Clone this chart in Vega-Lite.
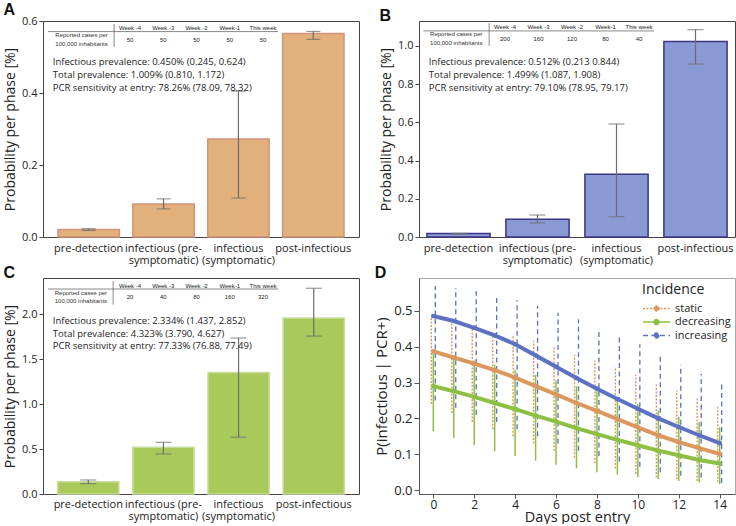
{
"$schema": "https://vega.github.io/schema/vega-lite/v6.json",
"padding": {"left": 3, "top": 1, "right": 0, "bottom": 0},
"bounds": "flush",
"columns": 2,
"spacing": {"row": 41, "column": 60},
"resolve": {"scale": {"color": "independent", "strokeDash": "independent"}, "legend": {"color": "independent", "strokeDash": "independent"}},
"concat": [
{
"title": {"text": "A"},
"width": 316, "height": 216,
"view": {"stroke": "#444"},
"layer": [
 {"data": {"values": [
   {"phase": "pre-detection", "p": 0.021, "lo": 0.018, "hi": 0.023},
   {"phase": "infectious (pre-symptomatic)", "p": 0.092, "lo": 0.078, "hi": 0.106},
   {"phase": "infectious (symptomatic)", "p": 0.272, "lo": 0.108, "hi": 0.405},
   {"phase": "post-infectious", "p": 0.565, "lo": 0.549, "hi": 0.571}]},
  "encoding": {"x": {"field": "phase", "type": "nominal", "scale": {"domain": ["pre-detection","infectious (pre-symptomatic)","infectious (symptomatic)","post-infectious"], "paddingInner": 0.18, "paddingOuter": 0.2},
     "axis": {"title": null, "ticks": false, "domain": false, "labelAngle": 0, "labelFontSize": 11, "labelPadding": 5, "labelLineHeight": 12, "labelExpr": "datum.value == 'infectious (pre-symptomatic)' ? ['infectious (pre-', 'symptomatic)'] : datum.value == 'infectious (symptomatic)' ? ['infectious', '(symptomatic)'] : datum.label"}}},
  "layer": [
   {"mark": {"type": "bar", "fill": "#E1B07B", "stroke": "#D2937C", "strokeWidth": 1.5},
    "encoding": {"y": {"field": "p", "type": "quantitative", "title": "Probability per phase [%]", "scale": {"domain": [0, 0.6], "nice": false},
      "axis": {"values": [0,0.1,0.2,0.3,0.4,0.5,0.6], "format": ".1f", "domain": false, "tickSize": 4, "tickColor": "#444", "labelFontSize": 11, "titleFontSize": 14, "labelPadding": 2, "titlePadding": 4}}}},
   {"mark": {"type": "rule", "color": "#6d6d6d", "strokeWidth": 1.2},
    "encoding": {"y": {"field": "lo", "type": "quantitative", "title": "Probability per phase [%]"}, "y2": {"field": "hi"}}},
   {"mark": {"type": "tick", "color": "#6d6d6d", "size": 14, "thickness": 1.2},
    "encoding": {"y": {"field": "lo", "type": "quantitative", "title": "Probability per phase [%]"}}},
   {"mark": {"type": "tick", "color": "#6d6d6d", "size": 14, "thickness": 1.2},
    "encoding": {"y": {"field": "hi", "type": "quantitative", "title": "Probability per phase [%]"}}}
  ]},
 {"data": {"values": [{"panel": "A"}]},
  "layer": [
   {"mark": {"type": "text", "align": "left", "baseline": "middle", "fontSize": 9.5, "lineHeight": 13, "color": "#222"},
    "encoding": {"x": {"datum": 0.031, "type": "quantitative", "scale": {"domain": [0, 1]}, "axis": null},
     "y": {"datum": 0.81, "type": "quantitative", "scale": {"domain": [0, 1]}, "axis": null},
     "text": {"value": ["Infectious prevalence: 0.450% (0.245, 0.624)", "Total prevalence: 1.009% (0.810, 1.172)", "PCR sensitivity at entry: 78.26% (78.09, 78.32)"]}}},
   {"mark": {"type": "text", "align": "center", "baseline": "middle", "fontSize": 6, "lineHeight": 8.5, "font": "Liberation Sans", "color": "#333"},
    "encoding": {"x": {"datum": 0.122, "type": "quantitative"}, "y": {"datum": 0.935, "type": "quantitative"},
     "text": {"value": ["Reported cases per", "100,000 inhabitants"]}}},
   {"mark": {"type": "rule", "color": "#555", "strokeWidth": 0.7},
    "encoding": {"x": {"datum": 0.016, "type": "quantitative"}, "x2": {"datum": 0.744}, "y": {"datum": 0.951, "type": "quantitative"}}},
   {"mark": {"type": "rule", "color": "#555", "strokeWidth": 0.7},
    "encoding": {"x": {"datum": 0.225, "type": "quantitative"}, "y": {"datum": 0.986, "type": "quantitative"}, "y2": {"datum": 0.88}}}
  ]},
 {"data": {"values": [
   {"week": "Week -4", "cases": "50"}, {"week": "Week -3", "cases": "50"}, {"week": "Week -2", "cases": "50"}, {"week": "Week-1", "cases": "50"}, {"week": "This week", "cases": "50"}]},
  "encoding": {"x": {"field": "week", "type": "ordinal", "sort": null, "scale": {"type": "point", "range": [87, 220], "padding": 0}, "axis": null}},
  "layer": [
   {"mark": {"type": "text", "fontSize": 6, "font": "Liberation Sans", "color": "#222", "baseline": "middle"},
    "encoding": {"y": {"datum": 0.968, "type": "quantitative", "scale": {"domain": [0, 1]}, "axis": null}, "text": {"field": "week"}}},
   {"mark": {"type": "text", "fontSize": 6, "font": "Liberation Sans", "color": "#222", "baseline": "middle"},
    "encoding": {"y": {"datum": 0.912, "type": "quantitative"}, "text": {"field": "cases"}}}
  ]}
],
"resolve": {"scale": {"x": "independent", "y": "independent"}}
},
{
"title": {"text": "B"},
"width": 316, "height": 216,
"view": {"stroke": "#444"},
"layer": [
 {"data": {"values": [
   {"phase": "pre-detection", "p": 0.018, "lo": 0.016, "hi": 0.019},
   {"phase": "infectious (pre-symptomatic)", "p": 0.093, "lo": 0.074, "hi": 0.115},
   {"phase": "infectious (symptomatic)", "p": 0.328, "lo": 0.106, "hi": 0.591},
   {"phase": "post-infectious", "p": 1.023, "lo": 0.905, "hi": 1.085}]},
  "encoding": {"x": {"field": "phase", "type": "nominal", "scale": {"domain": ["pre-detection","infectious (pre-symptomatic)","infectious (symptomatic)","post-infectious"], "paddingInner": 0.2, "paddingOuter": 0.1},
     "axis": {"title": null, "ticks": false, "domain": false, "labelAngle": 0, "labelFontSize": 11, "labelPadding": 5, "labelLineHeight": 12, "labelExpr": "datum.value == 'infectious (pre-symptomatic)' ? ['infectious (pre-', 'symptomatic)'] : datum.value == 'infectious (symptomatic)' ? ['infectious', '(symptomatic)'] : datum.label"}}},
  "layer": [
   {"mark": {"type": "bar", "fill": "#8A9AD4", "stroke": "#3C3585", "strokeWidth": 1.5},
    "encoding": {"y": {"field": "p", "type": "quantitative", "title": "Probability per phase [%]", "scale": {"domain": [0, 1.13], "nice": false},
      "axis": {"values": [0,0.2,0.4,0.6,0.8,1.0], "format": ".1f", "domain": false, "tickSize": 4, "tickColor": "#444", "labelFontSize": 11, "titleFontSize": 14, "labelPadding": 2, "titlePadding": 4}}}},
   {"mark": {"type": "rule", "color": "#6d6d6d", "strokeWidth": 1.2},
    "encoding": {"y": {"field": "lo", "type": "quantitative", "title": "Probability per phase [%]"}, "y2": {"field": "hi"}}},
   {"mark": {"type": "tick", "color": "#6d6d6d", "size": 16, "thickness": 1.2},
    "encoding": {"y": {"field": "lo", "type": "quantitative", "title": "Probability per phase [%]"}}},
   {"mark": {"type": "tick", "color": "#6d6d6d", "size": 16, "thickness": 1.2},
    "encoding": {"y": {"field": "hi", "type": "quantitative", "title": "Probability per phase [%]"}}}
  ]},
 {"data": {"values": [{"panel": "B"}]},
  "layer": [
   {"mark": {"type": "text", "align": "left", "baseline": "middle", "fontSize": 9.5, "lineHeight": 13, "color": "#222"},
    "encoding": {"x": {"datum": 0.031, "type": "quantitative", "scale": {"domain": [0, 1]}, "axis": null},
     "y": {"datum": 0.81, "type": "quantitative", "scale": {"domain": [0, 1]}, "axis": null},
     "text": {"value": ["Infectious prevalence: 0.512% (0.213 0.844)", "Total prevalence: 1.499% (1.087, 1.908)", "PCR sensitivity at entry: 79.10% (78.95, 79.17)"]}}},
   {"mark": {"type": "text", "align": "center", "baseline": "middle", "fontSize": 6, "lineHeight": 8.5, "font": "Liberation Sans", "color": "#333"},
    "encoding": {"x": {"datum": 0.118, "type": "quantitative"}, "y": {"datum": 0.938, "type": "quantitative"},
     "text": {"value": ["Reported cases per", "100,000 inhabitants"]}}},
   {"mark": {"type": "rule", "color": "#555", "strokeWidth": 0.7},
    "encoding": {"x": {"datum": 0.014, "type": "quantitative"}, "x2": {"datum": 0.744}, "y": {"datum": 0.954, "type": "quantitative"}}},
   {"mark": {"type": "rule", "color": "#555", "strokeWidth": 0.7},
    "encoding": {"x": {"datum": 0.222, "type": "quantitative"}, "y": {"datum": 0.99, "type": "quantitative"}, "y2": {"datum": 0.885}}}
  ]},
 {"data": {"values": [
   {"week": "Week -4", "cases": "200"}, {"week": "Week -3", "cases": "160"}, {"week": "Week -2", "cases": "120"}, {"week": "Week-1", "cases": "80"}, {"week": "This week", "cases": "40"}]},
  "encoding": {"x": {"field": "week", "type": "ordinal", "sort": null, "scale": {"type": "point", "range": [86, 220], "padding": 0}, "axis": null}},
  "layer": [
   {"mark": {"type": "text", "fontSize": 6, "font": "Liberation Sans", "color": "#222", "baseline": "middle"},
    "encoding": {"y": {"datum": 0.973, "type": "quantitative", "scale": {"domain": [0, 1]}, "axis": null}, "text": {"field": "week"}}},
   {"mark": {"type": "text", "fontSize": 6, "font": "Liberation Sans", "color": "#222", "baseline": "middle"},
    "encoding": {"y": {"datum": 0.915, "type": "quantitative"}, "text": {"field": "cases"}}}
  ]}
],
"resolve": {"scale": {"x": "independent", "y": "independent"}}
},
{
"title": {"text": "C"},
"width": 316, "height": 216,
"view": {"stroke": "#444"},
"layer": [
 {"data": {"values": [
   {"phase": "pre-detection", "p": 0.137, "lo": 0.115, "hi": 0.156},
   {"phase": "infectious (pre-symptomatic)", "p": 0.519, "lo": 0.445, "hi": 0.575},
   {"phase": "infectious (symptomatic)", "p": 1.351, "lo": 0.631, "hi": 1.733},
   {"phase": "post-infectious", "p": 1.955, "lo": 1.755, "hi": 2.286}]},
  "encoding": {"x": {"field": "phase", "type": "nominal", "scale": {"domain": ["pre-detection","infectious (pre-symptomatic)","infectious (symptomatic)","post-infectious"], "paddingInner": 0.185, "paddingOuter": 0.195},
     "axis": {"title": null, "ticks": false, "domain": false, "labelAngle": 0, "labelFontSize": 11, "labelPadding": 4, "labelLineHeight": 12, "labelExpr": "datum.value == 'infectious (pre-symptomatic)' ? ['infectious (pre-', 'symptomatic)'] : datum.value == 'infectious (symptomatic)' ? ['infectious', '(symptomatic)'] : datum.label"}}},
  "layer": [
   {"mark": {"type": "bar", "fill": "#A9C95B", "stroke": "#C9DDA0", "strokeWidth": 1.5},
    "encoding": {"y": {"field": "p", "type": "quantitative", "title": "Probability per phase [%]", "scale": {"domain": [0, 2.4], "nice": false},
      "axis": {"values": [0,0.5,1.0,1.5,2.0], "format": ".1f", "domain": false, "tickSize": 4, "tickColor": "#444", "labelFontSize": 11, "titleFontSize": 14, "labelPadding": 2, "titlePadding": 4}}}},
   {"mark": {"type": "rule", "color": "#6d6d6d", "strokeWidth": 1.2},
    "encoding": {"y": {"field": "lo", "type": "quantitative", "title": "Probability per phase [%]"}, "y2": {"field": "hi"}}},
   {"mark": {"type": "tick", "color": "#6d6d6d", "size": 16, "thickness": 1.2},
    "encoding": {"y": {"field": "lo", "type": "quantitative", "title": "Probability per phase [%]"}}},
   {"mark": {"type": "tick", "color": "#6d6d6d", "size": 16, "thickness": 1.2},
    "encoding": {"y": {"field": "hi", "type": "quantitative", "title": "Probability per phase [%]"}}}
  ]},
 {"data": {"values": [{"panel": "C"}]},
  "layer": [
   {"mark": {"type": "text", "align": "left", "baseline": "middle", "fontSize": 9.5, "lineHeight": 12.5, "color": "#222"},
    "encoding": {"x": {"datum": 0.031, "type": "quantitative", "scale": {"domain": [0, 1]}, "axis": null},
     "y": {"datum": 0.80, "type": "quantitative", "scale": {"domain": [0, 1]}, "axis": null},
     "text": {"value": ["Infectious prevalence: 2.334% (1.437, 2.852)", "Total prevalence: 4.323% (3.790, 4.627)", "PCR sensitivity at entry: 77.33% (76.88, 77.49)"]}}},
   {"mark": {"type": "text", "align": "center", "baseline": "middle", "fontSize": 6, "lineHeight": 8.5, "font": "Liberation Sans", "color": "#333"},
    "encoding": {"x": {"datum": 0.12, "type": "quantitative"}, "y": {"datum": 0.932, "type": "quantitative"},
     "text": {"value": ["Reported cases per", "100,000 inhabitants"]}}},
   {"mark": {"type": "rule", "color": "#555", "strokeWidth": 0.7},
    "encoding": {"x": {"datum": 0.016, "type": "quantitative"}, "x2": {"datum": 0.744}, "y": {"datum": 0.949, "type": "quantitative"}}},
   {"mark": {"type": "rule", "color": "#555", "strokeWidth": 0.7},
    "encoding": {"x": {"datum": 0.222, "type": "quantitative"}, "y": {"datum": 0.986, "type": "quantitative"}, "y2": {"datum": 0.877}}}
  ]},
 {"data": {"values": [
   {"week": "Week -4", "cases": "20"}, {"week": "Week -3", "cases": "40"}, {"week": "Week -2", "cases": "80"}, {"week": "Week-1", "cases": "160"}, {"week": "This week", "cases": "320"}]},
  "encoding": {"x": {"field": "week", "type": "ordinal", "sort": null, "scale": {"type": "point", "range": [87, 220], "padding": 0}, "axis": null}},
  "layer": [
   {"mark": {"type": "text", "fontSize": 6, "font": "Liberation Sans", "color": "#222", "baseline": "middle"},
    "encoding": {"y": {"datum": 0.965, "type": "quantitative", "scale": {"domain": [0, 1]}, "axis": null}, "text": {"field": "week"}}},
   {"mark": {"type": "text", "fontSize": 6, "font": "Liberation Sans", "color": "#222", "baseline": "middle"},
    "encoding": {"y": {"datum": 0.912, "type": "quantitative"}, "text": {"field": "cases"}}}
  ]}
],
"resolve": {"scale": {"x": "independent", "y": "independent"}}
},
{
"title": {"text": "D"},
"width": 316, "height": 216,
"view": {"stroke": "#aaa"},
"data": {"values": [
 {"day": 0, "series": "static", "p": 0.387, "lo": 0.24, "hi": 0.485},
 {"day": 1, "series": "static", "p": 0.370, "lo": 0.215, "hi": 0.467},
 {"day": 2, "series": "static", "p": 0.353, "lo": 0.19, "hi": 0.457},
 {"day": 3, "series": "static", "p": 0.335, "lo": 0.17, "hi": 0.443},
 {"day": 4, "series": "static", "p": 0.314, "lo": 0.15, "hi": 0.434},
 {"day": 5, "series": "static", "p": 0.290, "lo": 0.13, "hi": 0.417},
 {"day": 6, "series": "static", "p": 0.267, "lo": 0.11, "hi": 0.400},
 {"day": 7, "series": "static", "p": 0.243, "lo": 0.09, "hi": 0.378},
 {"day": 8, "series": "static", "p": 0.221, "lo": 0.075, "hi": 0.362},
 {"day": 9, "series": "static", "p": 0.198, "lo": 0.06, "hi": 0.344},
 {"day": 10, "series": "static", "p": 0.175, "lo": 0.045, "hi": 0.322},
 {"day": 11, "series": "static", "p": 0.153, "lo": 0.035, "hi": 0.299},
 {"day": 12, "series": "static", "p": 0.134, "lo": 0.03, "hi": 0.278},
 {"day": 13, "series": "static", "p": 0.117, "lo": 0.025, "hi": 0.257},
 {"day": 14, "series": "static", "p": 0.101, "lo": 0.022, "hi": 0.235},
 {"day": 0, "series": "decreasing", "p": 0.290, "lo": 0.164, "hi": 0.385},
 {"day": 1, "series": "decreasing", "p": 0.276, "lo": 0.145, "hi": 0.373},
 {"day": 2, "series": "decreasing", "p": 0.260, "lo": 0.126, "hi": 0.362},
 {"day": 3, "series": "decreasing", "p": 0.243, "lo": 0.109, "hi": 0.350},
 {"day": 4, "series": "decreasing", "p": 0.226, "lo": 0.095, "hi": 0.336},
 {"day": 5, "series": "decreasing", "p": 0.208, "lo": 0.082, "hi": 0.322},
 {"day": 6, "series": "decreasing", "p": 0.191, "lo": 0.071, "hi": 0.306},
 {"day": 7, "series": "decreasing", "p": 0.173, "lo": 0.061, "hi": 0.290},
 {"day": 8, "series": "decreasing", "p": 0.156, "lo": 0.050, "hi": 0.275},
 {"day": 9, "series": "decreasing", "p": 0.140, "lo": 0.043, "hi": 0.258},
 {"day": 10, "series": "decreasing", "p": 0.125, "lo": 0.036, "hi": 0.240},
 {"day": 11, "series": "decreasing", "p": 0.110, "lo": 0.031, "hi": 0.222},
 {"day": 12, "series": "decreasing", "p": 0.097, "lo": 0.025, "hi": 0.205},
 {"day": 13, "series": "decreasing", "p": 0.084, "lo": 0.021, "hi": 0.190},
 {"day": 14, "series": "decreasing", "p": 0.074, "lo": 0.017, "hi": 0.175},
 {"day": 0, "series": "increasing", "p": 0.486, "lo": 0.25, "hi": 0.570},
 {"day": 1, "series": "increasing", "p": 0.472, "lo": 0.23, "hi": 0.564},
 {"day": 2, "series": "increasing", "p": 0.453, "lo": 0.21, "hi": 0.556},
 {"day": 3, "series": "increasing", "p": 0.432, "lo": 0.19, "hi": 0.544},
 {"day": 4, "series": "increasing", "p": 0.407, "lo": 0.17, "hi": 0.530},
 {"day": 5, "series": "increasing", "p": 0.376, "lo": 0.15, "hi": 0.514},
 {"day": 6, "series": "increasing", "p": 0.344, "lo": 0.13, "hi": 0.495},
 {"day": 7, "series": "increasing", "p": 0.313, "lo": 0.11, "hi": 0.477},
 {"day": 8, "series": "increasing", "p": 0.283, "lo": 0.095, "hi": 0.452},
 {"day": 9, "series": "increasing", "p": 0.254, "lo": 0.08, "hi": 0.430},
 {"day": 10, "series": "increasing", "p": 0.227, "lo": 0.065, "hi": 0.407},
 {"day": 11, "series": "increasing", "p": 0.200, "lo": 0.05, "hi": 0.379},
 {"day": 12, "series": "increasing", "p": 0.176, "lo": 0.04, "hi": 0.350},
 {"day": 13, "series": "increasing", "p": 0.153, "lo": 0.035, "hi": 0.324},
 {"day": 14, "series": "increasing", "p": 0.131, "lo": 0.02, "hi": 0.297}
]},
"encoding": {
 "x": {"field": "day", "type": "quantitative", "scale": {"domain": [-0.7, 14.75], "nice": false, "zero": false},
   "axis": {"title": "Days post entry", "values": [0,2,4,6,8,10,12,14], "tickSize": 4, "tickColor": "#555", "domainColor": "#555", "labelFontSize": 12, "titleFontSize": 14.5, "titlePadding": 0, "labelPadding": 1}},
 "color": {"field": "series", "type": "nominal", "scale": {"domain": ["static", "decreasing", "increasing"], "range": ["#DB975C", "#8CC043", "#5C71C3"]},
   "legend": {"title": "Incidence", "orient": "none", "legendX": 223, "legendY": 5, "encode": {"symbols": {"update": {"fill": {"signal": "datum.value == 'static' ? '#DB975C' : datum.value == 'decreasing' ? '#8CC043' : '#5C71C3'"}, "fillOpacity": {"value": 1}, "strokeWidth": {"value": 1.3}}}}}}
},
"layer": [
 {"transform": [{"filter": "datum.series == 'static'"}],
  "mark": {"type": "rule", "xOffset": -2, "strokeWidth": 1.4},
  "encoding": {"y": {"field": "lo", "type": "quantitative", "title": "P(infectious | PCR+)", "scale": {"domain": [-0.011, 0.592], "nice": false, "zero": false},
     "axis": {"values": [0,0.1,0.2,0.3,0.4,0.5], "format": ".1f", "tickSize": 5, "tickColor": "#555", "domainColor": "#555", "labelFontSize": 13, "titleFontSize": 15, "titlePadding": 4, "labelPadding": 2}},
   "y2": {"field": "hi"},
   "strokeDash": {"field": "series", "type": "nominal", "scale": {"domain": ["static", "decreasing", "increasing"], "range": [[2, 1.5], [1, 0], [5, 3.5]]}, "legend": {"title": "Incidence", "orient": "none", "legendX": 223, "legendY": 5}}}},
 {"transform": [{"filter": "datum.series == 'decreasing'"}],
  "mark": {"type": "rule", "xOffset": 0, "strokeWidth": 1.5},
  "encoding": {"y": {"field": "lo", "type": "quantitative", "title": "P(infectious | PCR+)"}, "y2": {"field": "hi"},
   "strokeDash": {"field": "series", "type": "nominal", "legend": {"title": "Incidence", "orient": "none", "legendX": 223, "legendY": 5}}}},
 {"transform": [{"filter": "datum.series == 'increasing'"}],
  "mark": {"type": "rule", "xOffset": 2, "strokeWidth": 1.3},
  "encoding": {"y": {"field": "lo", "type": "quantitative", "title": "P(infectious | PCR+)"}, "y2": {"field": "hi"},
   "strokeDash": {"field": "series", "type": "nominal", "legend": {"title": "Incidence", "orient": "none", "legendX": 223, "legendY": 5}}}},
 {"mark": {"type": "line", "strokeWidth": 4, "point": {"filled": true, "size": 22}},
  "encoding": {"y": {"field": "p", "type": "quantitative", "title": "P(infectious | PCR+)"}}}
]
}
],
"config": {
 "font": "Open Sans",
 "view": {"stroke": "#444"},
 "axis": {"grid": false, "labelColor": "#222", "titleColor": "#222", "titleFontWeight": "normal", "labelFont": "Open Sans", "titleFont": "Open Sans"},
 "title": {"font": "Liberation Sans", "fontSize": 16, "fontWeight": "bold", "anchor": "start", "frame": "bounds", "offset": -3, "color": "#111"},
 "text": {"font": "Open Sans"},
 "legend": {"padding": 0, "symbolType": "M-2,0H2M0.38,0A0.38,0.38,0,1,1,-0.38,0A0.38,0.38,0,1,1,0.38,0", "symbolSize": 182, "symbolStrokeWidth": 1.3, "symbolOffset": 7, "labelOffset": 11, "labelFontSize": 11, "labelColor": "#222", "titleFontSize": 14, "titleFontWeight": "normal", "titleColor": "#222", "rowPadding": 0.5, "titlePadding": 4, "labelFont": "Open Sans", "titleFont": "Open Sans"}
}
}
